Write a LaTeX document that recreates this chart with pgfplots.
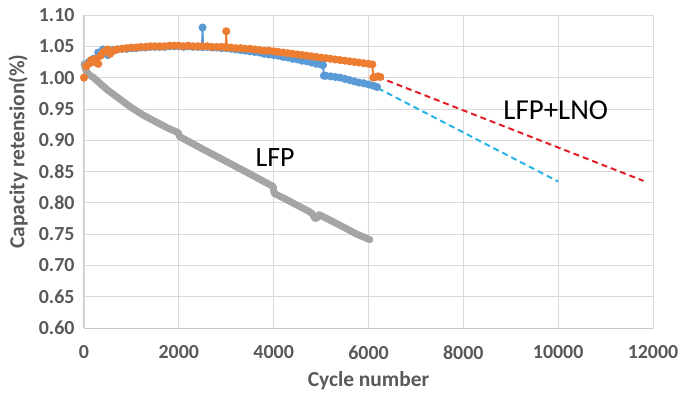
\documentclass[border=0pt]{standalone}
\usepackage{pgfplots}
\pgfplotsset{compat=1.18}
\usepackage{fontspec}
\setmainfont{Carlito}
\definecolor{xlorange}{RGB}{237,125,49}
\definecolor{xlblue}{RGB}{91,155,213}
\definecolor{xlgray}{RGB}{165,165,165}
\definecolor{gridc}{RGB}{217,217,217}
\definecolor{axc}{RGB}{200,200,200}
\definecolor{txtc}{RGB}{89,89,89}
\definecolor{redd}{RGB}{228,30,38}
\definecolor{cyand}{RGB}{40,180,230}
\begin{document}
\begin{tikzpicture}
\begin{axis}[
  scale only axis, width=569bp, height=313bp,
  xmin=0, xmax=12000, ymin=0.6, ymax=1.1,
  xtick={0,2000,...,12000}, ytick={0.6,0.65,...,1.1},
  /pgf/number format/assume math mode=true,
  xticklabel style={/pgf/number format/set thousands separator={}, font=\fontsize{20}{22}\selectfont\bfseries, text=txtc, yshift=-14bp},
  yticklabel style={/pgf/number format/fixed, /pgf/number format/fixed zerofill, /pgf/number format/precision=2, font=\fontsize{20}{22}\selectfont\bfseries, text=txtc, xshift=-6bp},
  scaled x ticks=false,
  grid=major, major grid style={gridc, line width=0.8bp},
  axis line style={axc, line width=1bp},
  axis x line*=bottom, axis y line*=left,
  major tick length=0pt,
  xlabel={Cycle number}, ylabel={Capacity retension(\%)},
  xlabel style={font=\fontsize{21.5}{24}\selectfont\bfseries, text=txtc, at={(axis description cs:0.5,0)}, anchor=center, yshift=-53bp},
  ylabel style={font=\fontsize{21.5}{24}\selectfont\bfseries, text=txtc, at={(axis description cs:0,0.5)}, anchor=center, yshift=66bp, xshift=20bp},
  clip=false,
]
% blue series
\addplot[xlblue, line width=2bp, mark=*, mark size=3bp, mark options={draw=xlblue, fill=xlblue}] coordinates {
(100,1.025)(200,1.030)(300,1.040)(400,1.045)(500,1.036)(550,1.040)(600,1.044)(700,1.045)(800,1.046)(900,1.046)
(1000,1.047)(1100,1.047)(1200,1.048)(1300,1.048)(1400,1.049)(1500,1.049)(1600,1.049)(1700,1.049)(1800,1.050)(1900,1.050)
(2000,1.050)(2100,1.049)(2200,1.050)(2300,1.049)(2400,1.049)(2490,1.049)(2500,1.080)(2510,1.049)(2600,1.049)(2700,1.048)
(2800,1.048)(2900,1.047)(3000,1.047)(3100,1.046)(3200,1.045)(3300,1.044)(3400,1.043)(3500,1.042)(3600,1.041)(3700,1.040)
(3800,1.038)(3900,1.037)(4000,1.036)(4100,1.035)(4200,1.033)(4300,1.032)(4400,1.030)(4500,1.029)(4600,1.027)(4700,1.026)
(4800,1.024)(4900,1.022)(5000,1.021)(5040,1.020)(5060,1.003)(5100,1.003)(5200,1.002)(5300,1.001)(5400,1.000)(5500,0.998)
(5600,0.996)(5700,0.994)(5800,0.992)(5900,0.991)(6000,0.989)(6100,0.987)(6180,0.985)
};
% orange series
\addplot[xlorange, line width=2bp, mark=*, mark size=3bp, mark options={draw=xlorange, fill=xlorange}] coordinates {
(0,1.000)(50,1.018)(100,1.022)(150,1.028)(200,1.025)(250,1.030)(300,1.022)(350,1.035)(400,1.040)(450,1.043)
(500,1.045)(550,1.038)(600,1.042)(650,1.044)(700,1.045)(800,1.046)(900,1.047)(1000,1.048)(1100,1.048)(1200,1.049)
(1300,1.049)(1400,1.050)(1500,1.050)(1600,1.050)(1700,1.050)(1800,1.051)(1900,1.051)(2000,1.051)(2100,1.050)(2200,1.051)
(2300,1.050)(2400,1.050)(2500,1.050)(2600,1.050)(2700,1.049)(2800,1.049)(2900,1.049)(2990,1.049)(3000,1.074)(3010,1.048)
(3100,1.048)(3200,1.047)(3300,1.047)(3400,1.046)(3500,1.046)(3600,1.045)(3700,1.044)(3800,1.043)(3900,1.043)(4000,1.042)
(4100,1.041)(4200,1.040)(4300,1.039)(4400,1.038)(4500,1.037)(4600,1.036)(4700,1.035)(4800,1.034)(4900,1.033)(5000,1.032)
(5100,1.031)(5200,1.030)(5300,1.029)(5400,1.028)(5500,1.027)(5600,1.026)(5700,1.025)(5800,1.024)(5900,1.023)(6000,1.022)
(6080,1.021)(6100,1.000)(6150,1.001)(6200,1.002)(6250,1.001)
};
% LFP gray
\addplot[xlgray, line width=7bp, line join=round, line cap=round] coordinates {
(0,1.022)(50,1.010)(100,1.005)(200,1.000)(350,0.990)(500,0.980)(750,0.966)(1000,0.952)(1250,0.940)(1500,0.930)
(1750,0.920)(1990,0.912)(2010,0.906)(2500,0.886)(3000,0.866)(3500,0.846)(3990,0.826)(4010,0.815)(4250,0.806)(4500,0.796)
(4750,0.786)(4820,0.782)(4870,0.775)(4920,0.776)(4960,0.781)(5250,0.770)(5500,0.760)(5750,0.750)(6030,0.741)
};
% extrapolations
\addplot[redd, line width=2bp, dash pattern=on 6bp off 4bp] coordinates {(6200,1.001)(11800,0.835)};
\addplot[cyand, line width=2bp, dash pattern=on 6bp off 4bp] coordinates {(6200,0.983)(10000,0.834)};
\node[font=\fontsize{28}{30}\selectfont, text=black] at (axis cs:4030,0.873) {LFP};
\node[font=\fontsize{29}{31}\selectfont, text=black] at (axis cs:9950,0.948) {LFP+LNO};
\end{axis}
\pgfresetboundingbox
\path (-84bp,-70bp) rectangle (598bp,328bp);
\end{tikzpicture}
\end{document}
